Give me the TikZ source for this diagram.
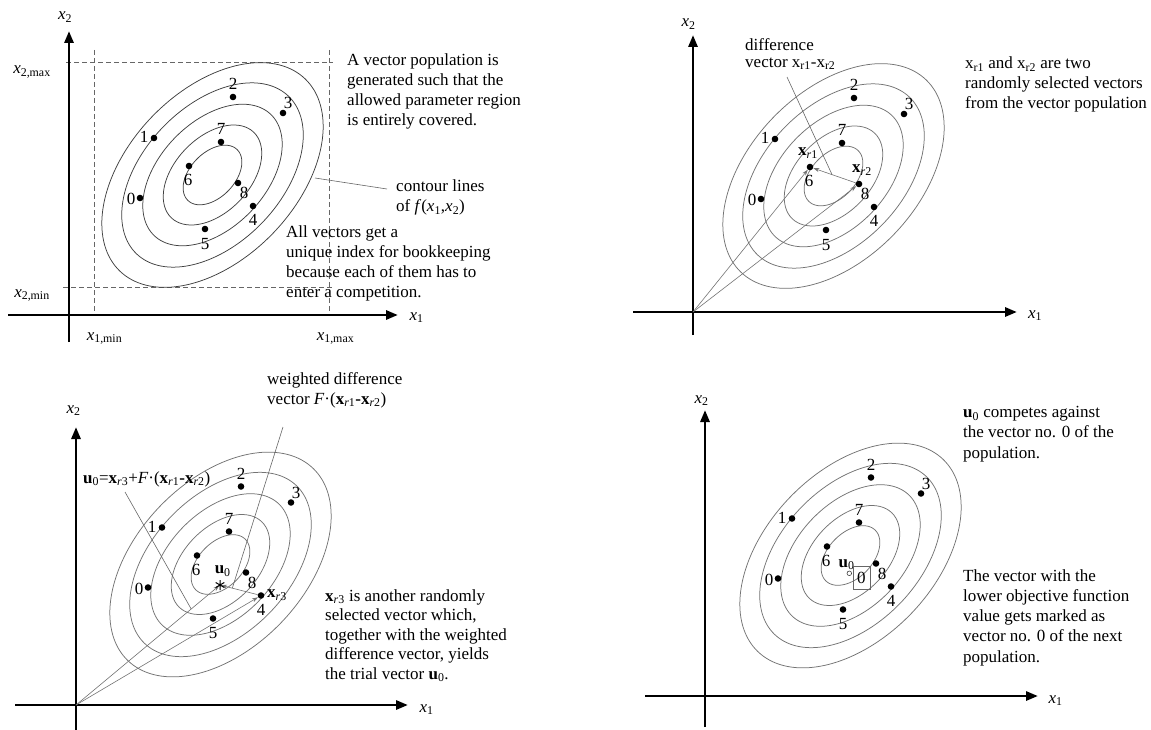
\documentclass[tikz,border=0pt]{standalone}
\usepackage{fontspec}
\setmainfont{Liberation Serif}
\usetikzlibrary{arrows.meta,calc}
\newcommand\IX[1]{\textit{x}\textsubscript{#1}}
\newcommand\VX[1]{\textbf{x}\textsubscript{\textit{r}#1}}
\newcommand\UZ{\textbf{u}\textsubscript{0}}
\newcommand\txtfont{\fontsize{17}{20}\selectfont}
% contour ellipses: centre (#1,#2), picture y axis points down
\newcommand\contours[3]{%
  \foreach \ra/\rb in {133.5/84,109.5/68.9,84.1/52.9,59.4/37.4,35.4/22.3}{%
    \draw[contour,#3] plot[smooth cycle,domain=0:355,samples=72,variable=\t]
      ({#1+\ra*cos(\t)*cos(46)-\rb*sin(\t)*sin(46)},{#2-\ra*cos(\t)*sin(46)-\rb*sin(\t)*cos(46)});}}
\newcommand\population[3]{%
  \foreach \i/\px/\py/\lx/\ly in {0/140/198/-9/1,1/154/138/-10/-1,2/233/97/0/-13,3/283/113/5/-10,4/253/206/0/14,5/205/229/0/15,6/189/166/-1/14,7/221/142/0/-13,8/238/183/6/10}{%
    \node[dotn] (#1\i) at ({\px+#2},{\py+#3}) {};
    \node[num] (#1n\i) at ({\px+#2+\lx},{\py+#3+\ly}) {\i};}}
\begin{document}
\begin{tikzpicture}[x=1pt,y=-1pt,
  axisln/.style={line width=2.8pt,-{Triangle[length=12pt,width=9pt]}},
  contour/.style={draw=black!55,line width=0.75pt},
  dotn/.style={circle,fill=black,inner sep=0pt,minimum size=6.6pt},
  num/.style={inner sep=0pt,font=\txtfont},
  albl/.style={inner sep=0pt,font=\txtfont,anchor=base},
  txt/.style={inner sep=0pt,align=left,anchor=north west,font=\txtfont,execute at begin node=\strut},
  vec/.style={draw=black!55,line width=0.6pt,-{Stealth[length=6pt,width=4pt]}},
  pointer/.style={draw=black!60,line width=0.6pt},
  dashln/.style={draw=black!60,line width=0.6pt,dash pattern=on 5pt off 3pt}]
\useasboundingbox (0,0) rectangle (1151,730);

% ================= Panel 1 =================
\coordinate (a1b) at (69,342); \coordinate (a1t) at (69,31);
\coordinate (a1l) at (8,315);  \coordinate (a1r) at (398,315);
\coordinate (d1) at (66,62);  \coordinate (d2) at (333,62);
\coordinate (d3) at (63,287); \coordinate (d4) at (333,287);
\coordinate (d5) at (94,50);  \coordinate (d6) at (94,315);
\coordinate (d7) at (329,50); \coordinate (d8) at (329,315);
\draw[dashln] (d1) -- (d2);
\draw[dashln] (d3) -- (d4);
\draw[dashln] (d5) -- (d6);
\draw[dashln] (d7) -- (d8);
\draw[axisln] (a1b) -- (a1t);
\draw[axisln] (a1l) -- (a1r);
\node[albl] (l1x1) at (416.5,320) {\IX1};
\node[albl] (l1x2) at (65,20) {\IX2};
\node[albl] (l2max) at (32,74) {\textit{x}\textsubscript{2,max}};
\node[albl] (l2min) at (32,297) {\textit{x}\textsubscript{2,min}};
\node[albl] (l1min) at (104.5,340) {\textit{x}\textsubscript{1,min}};
\node[albl] (l1max) at (335.5,340) {\textit{x}\textsubscript{1,max}};
\contours{212.5}{175}{draw=black!75}
\population{a}{0}{0}
\node[txt] (t1) at (347,54) {A vector population is\\generated such that the\\allowed parameter region\\is entirely covered.};
\node[txt] (t2) at (396,179.5) {contour lines\\of \textit{f}(\IX1,\IX2)};
\coordinate (c1a) at (315,178); \coordinate (c1b) at (387,189);
\draw[pointer] (c1a) -- (c1b);
\node[txt] (t3) at (286,226) {All vectors get a\\unique index for bookkeeping\\because each of them has to\\enter a competition.};

% ================= Panel 2 =================
\coordinate (o2) at (693,312);
\coordinate (a2b) at (693,335); \coordinate (a2t) at (693,35);
\coordinate (a2l) at (633,312); \coordinate (a2r) at (1017,312);
\draw[axisln] (a2b) -- (a2t);
\draw[axisln] (a2l) -- (a2r);
\node[albl] (l2x1) at (1035,318) {\IX1};
\node[albl] (l2x2) at (688.5,27) {\IX2};
\contours{833.5}{176}{}
\population{b}{621}{1}
\draw[vec] (o2) -- (b6);
\draw[vec] (o2) -- (b8);
\draw[vec] (b8) -- (b6);
\node[num] (xr1) at (808,153) {\VX1};
\node[num] (xr2) at (862,170) {\VX2};
\node[txt,font=\fontsize{17}{16.5}\selectfont] (t4) at (745,38.5) {difference\\vector x\textsubscript{r1}-x\textsubscript{r2}};
\coordinate (p2a) at (787,77); \coordinate (p2b) at ($(b6)!0.45!(b8)$);
\draw[pointer] (p2a) -- (p2b);
\node[txt] (t5) at (965,57) {x\textsubscript{r1} and x\textsubscript{r2} are two\\randomly selected vectors\\from the vector population};

% ================= Panel 3 =================
\coordinate (o3) at (76,705);
\coordinate (a3b) at (76,730); \coordinate (a3t) at (76,427);
\coordinate (a3l) at (15,705); \coordinate (a3r) at (408,705);
\draw[axisln] (a3b) -- (a3t);
\draw[axisln] (a3l) -- (a3r);
\node[albl] (l3x1) at (426.5,712) {\IX1};
\node[albl] (l3x2) at (73.5,413) {\IX2};
\contours{220.5}{564.5}{}
\population{c}{8}{389.5}
\coordinate (u0) at (220,585);
\draw[vec,shorten >=1pt] (o3) -- (u0);
\draw[vec] (o3) -- (c4);
\draw[vec,shorten >=1pt] (c4) -- (u0);
\draw[line width=1pt] (u0) ++(0,-5) -- ++(0,10)
  (u0) ++(4.3,-2.5) -- ++(-8.6,5)
  (u0) ++(-4.3,-2.5) -- ++(8.6,5);
\node[num] (u0l) at (222.7,571) {\UZ};
\node[num] (xr3) at (277,595) {\VX3};
\node[txt] (t6) at (267,372) {weighted difference\\vector \textit{F}·(\VX1\textbf{-}\VX2)};
\node[txt] (t7) at (83,469) {\UZ=\VX3+\textit{F}·(\VX1\textbf{-}\VX2)};
\coordinate (p3a) at (125,492); \coordinate (p3b) at ($(o3)!0.8!(u0)$);
\draw[pointer] (p3a) -- (p3b);
\coordinate (p3c) at (283,427); \coordinate (p3d) at ($(u0)!0.3!(c4)$);
\draw[pointer] (p3c) -- (p3d);
\node[txt,font=\fontsize{17}{19.5}\selectfont] (t8) at (325,589) {\VX3 is another randomly\\selected vector which,\\together with the weighted\\difference vector, yields\\the trial vector \UZ.};

% ================= Panel 4 =================
\coordinate (a4b) at (705,727); \coordinate (a4t) at (705,410);
\coordinate (a4l) at (645,696); \coordinate (a4r) at (1038,696);
\draw[axisln] (a4b) -- (a4t);
\draw[axisln] (a4l) -- (a4r);
\node[albl] (l4x1) at (1055.5,703) {\IX1};
\node[albl] (l4x2) at (701.5,403) {\IX2};
\contours{850.5}{555.5}{}
\population{d}{638}{380.5}
\node[circle,draw=black!75,line width=0.6pt,inner sep=0pt,minimum size=4.6pt] (u0c) at (849.3,573.3) {};
\node[albl] (u0cl) at (846.5,567) {\UZ};
\node[draw=black!60,line width=0.6pt,minimum width=17pt,minimum height=23pt,inner sep=0pt,font=\txtfont] (box0) at (861.3,577.5) {0};
\node[txt,font=\fontsize{17}{20.5}\selectfont] (t9) at (963,406) {\UZ{} competes against\\the vector no. 0 of the\\population.};
\node[txt,font=\fontsize{17}{20.3}\selectfont] (t10) at (963,569) {The vector with the\\lower objective function\\value gets marked as\\vector no. 0 of the next\\population.};
\end{tikzpicture}
\end{document}
